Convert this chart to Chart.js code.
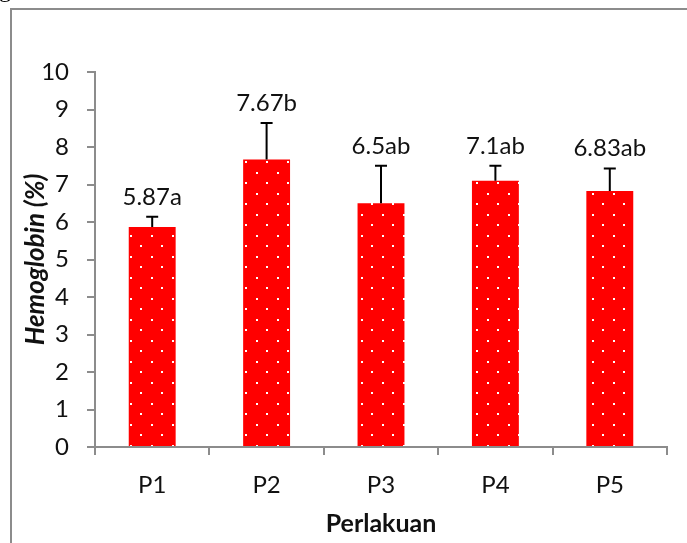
<!DOCTYPE html>
<html>
<head>
<meta charset="utf-8">
<script src="https://cdn.jsdelivr.net/npm/chart.js@4.4.1/dist/chart.umd.min.js"></script>
<style>
  html, body { margin: 0; padding: 0; background: #fff; }
  #wrap { width: 687px; height: 543px; position: relative; }
</style>
</head>
<body>
<div id="wrap"><canvas id="chart" width="687" height="543"></canvas></div>
<script>
// Hemoglobin per treatment
const categories = ['P1', 'P2', 'P3', 'P4', 'P5'];
const hemoglobin = [5.87, 7.67, 6.5, 7.1, 6.83];
const errorUp = [0.27, 0.97, 1.0, 0.4, 0.6];
const barLabels = ['5.87a', '7.67b', '6.5ab', '7.1ab', '6.83ab'];
const yTicks = [0, 1, 2, 3, 4, 5, 6, 7, 8, 9, 10];

const FONT = 'Lato, "Open Sans", sans-serif';
const AXIS_GRAY = '#8c8c8c';

// red fill with small white dots
function dotPattern() {
    const tile = document.createElement('canvas');
    tile.width = 21;
    tile.height = 21;
    const t = tile.getContext('2d');
    t.fillStyle = '#ff0000';
    t.fillRect(0, 0, 21, 21);
    t.fillStyle = '#ffffff';
    t.fillRect(4, 4, 2, 2);
    t.fillRect(14, 14, 2, 2);
    return t.createPattern(tile, 'repeat');
}

// error bars (upward only) + value labels
const errorBarPlugin = {
    id: 'errorBars',
    afterDatasetsDraw(chart) {
        const ctx = chart.ctx;
        const y = chart.scales.y;
        const meta = chart.getDatasetMeta(0);
        ctx.save();
        meta.data.forEach((bar, i) => {
            const yTop = y.getPixelForValue(hemoglobin[i] + errorUp[i]);
            ctx.strokeStyle = '#000';
            ctx.lineWidth = 2;
            ctx.beginPath();
            ctx.moveTo(bar.x, bar.y);
            ctx.lineTo(bar.x, yTop);
            ctx.moveTo(bar.x - 6, yTop);
            ctx.lineTo(bar.x + 6, yTop);
            ctx.stroke();

            ctx.fillStyle = '#111';
            ctx.font = '24px ' + FONT;
            ctx.textAlign = 'center';
            ctx.textBaseline = 'alphabetic';
            ctx.fillText(barLabels[i], bar.x, yTop - 12);
        });
        ctx.restore();
    }
};

// gray frame around the figure (right/bottom edges fall outside the crop)
const framePlugin = {
    id: 'frame',
    beforeDraw(chart) {
        const ctx = chart.ctx;
        ctx.save();
        ctx.fillStyle = '#fff';
        ctx.fillRect(0, 0, chart.width, chart.height);
        ctx.strokeStyle = '#8c8c8c';
        ctx.lineWidth = 2;
        ctx.beginPath();
        ctx.moveTo(11, chart.height);
        ctx.lineTo(11, 9);
        ctx.lineTo(chart.width, 9);
        ctx.stroke();
        // cropped caption letter at the very top
        ctx.fillStyle = '#000';
        ctx.font = '24px "Liberation Serif", serif';
        ctx.textBaseline = 'alphabetic';
        ctx.fillText('g', -1, -3);
        ctx.restore();
    }
};

new Chart(document.getElementById('chart'), {
    type: 'bar',
    data: {
        labels: categories,
        datasets: [{
            data: hemoglobin,
            backgroundColor: dotPattern(),
            borderWidth: 0,
            categoryPercentage: 1.0,
            barPercentage: 0.41
        }]
    },
    options: {
        responsive: false,
        animation: false,
        layout: { padding: { top: 72, right: 20, left: 0, bottom: 0 } },
        plugins: {
            legend: { display: false },
            tooltip: { enabled: false }
        },
        scales: {
            x: {
                afterFit(scale) { scale.height = 96; },
                border: { color: AXIS_GRAY, width: 2 },
                grid: {
                    display: true,
                    drawOnChartArea: false,
                    drawTicks: true,
                    tickLength: 8,
                    color: AXIS_GRAY,
                    lineWidth: 2
                },
                ticks: {
                    color: '#111',
                    font: { family: FONT, size: 24 },
                    padding: 16
                },
                title: {
                    display: true,
                    text: 'Perlakuan',
                    color: '#111',
                    font: { family: FONT, size: 25, weight: 'bold' },
                    padding: { top: 8 }
                }
            },
            y: {
                min: 0,
                max: 10,
                afterFit(scale) { scale.width = 95; },
                afterBuildTicks(scale) {
                    scale.ticks = yTicks.map(v => ({ value: v }));
                },
                border: { color: AXIS_GRAY, width: 2 },
                grid: {
                    display: true,
                    drawOnChartArea: false,
                    drawTicks: true,
                    tickLength: 8,
                    color: AXIS_GRAY,
                    lineWidth: 2
                },
                ticks: {
                    color: '#111',
                    font: { family: FONT, size: 24 },
                    padding: 18
                },
                title: {
                    display: true,
                    text: 'Hemoglobin (%)',
                    color: '#111',
                    font: { family: FONT, size: 26, weight: 'bold', style: 'italic' },
                    padding: { top: 20, bottom: 0 }
                }
            }
        }
    },
    plugins: [framePlugin, errorBarPlugin]
});
</script>
</body>
</html>
